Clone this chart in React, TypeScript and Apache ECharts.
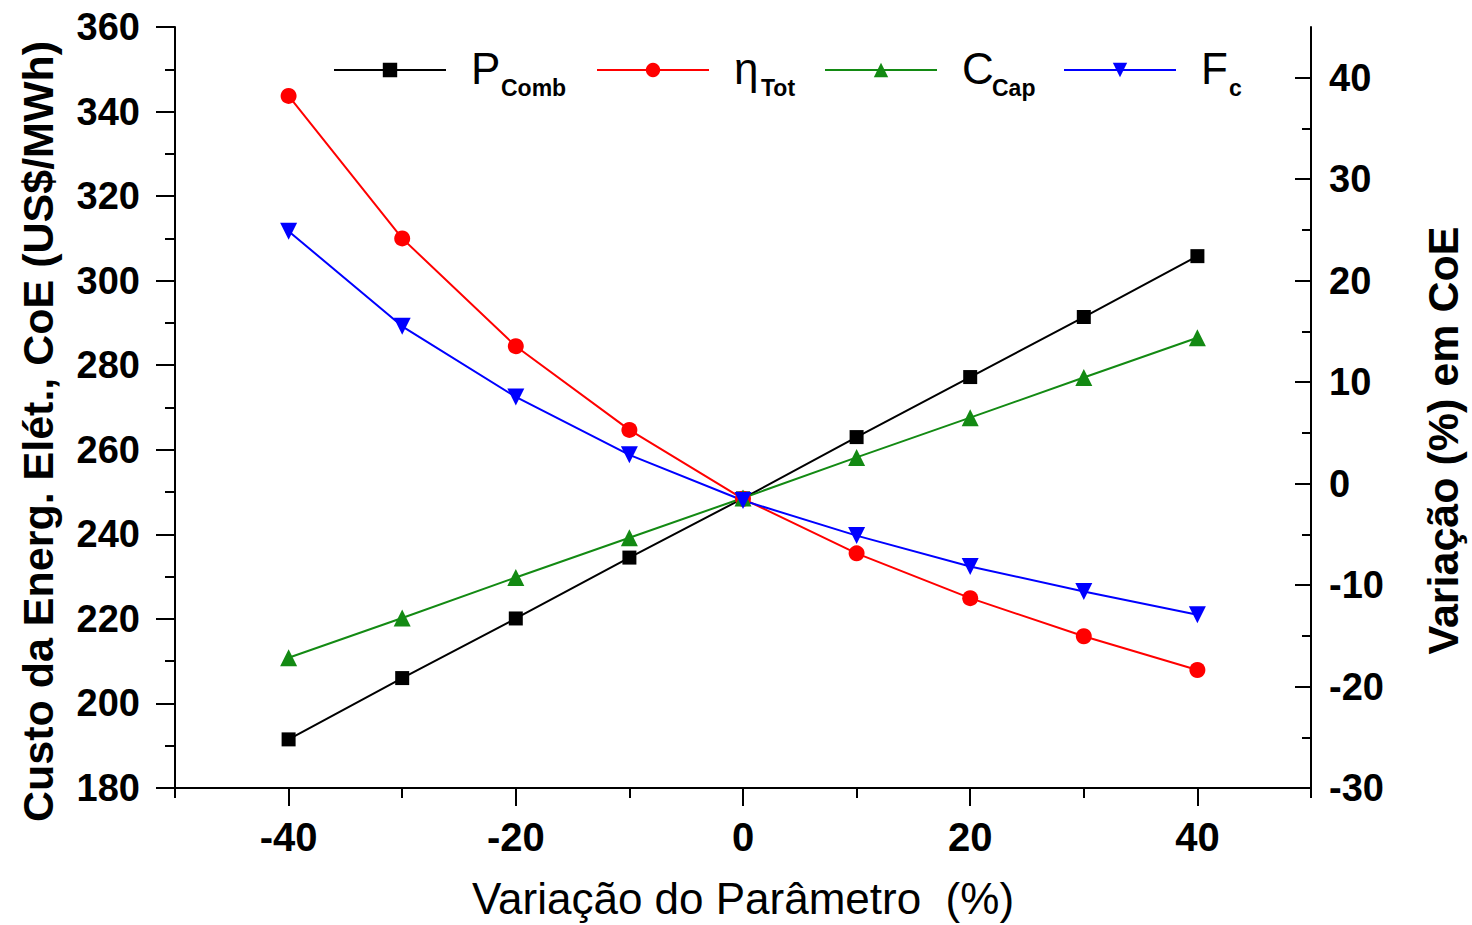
import React, { useEffect, useRef } from "react";
import * as echarts from "echarts";

const xValues = [-40, -30, -20, -10, 0, 10, 20, 30, 40];
const pComb = [191.5, 206, 220.1, 234.5, 248.5, 263, 277.2, 291.4, 305.8];
const etaTot = [343.7, 310, 284.5, 264.7, 248.4, 235.5, 224.9, 215.9, 207.9];
const cCap = [210.8, 220.2, 229.8, 239.2, 248.6, 258.2, 267.6, 277.1, 286.5];
const fC = [311.7, 289.2, 272.5, 258.8, 248, 239.7, 232.4, 226.5, 221];

const xMajorTicks = [-40, -20, 0, 20, 40];
const xMinorTicks = [-50, -30, -10, 10, 30, 50];
const rightTicks = [-30, -20, -10, 0, 10, 20, 30, 40];

const legendKeys = ["PComb", "EtaTot", "CCap", "Fc"];
const legendMain = ["P", "η", "C", "F"];
const legendSub = ["Comb", "Tot", "Cap", "c"];

const FONT = "'Liberation Sans', Arial, sans-serif";

export default function App() {
  const ref = useRef<HTMLDivElement>(null);
  useEffect(() => {
    if (!ref.current) return;
    const chart = echarts.init(ref.current, undefined, { renderer: "svg" });
    const pair = (arr: number[]) => xValues.map((x, i) => [x, arr[i]]);
    const mk = (name: string, data: number[], color: string, symbol: string, size: number, rotate = 0) => ({
      name,
      type: "line",
      data: pair(data),
      xAxisIndex: 0,
      yAxisIndex: 0,
      symbol,
      symbolSize: size,
      symbolRotate: rotate,
      lineStyle: { color, width: 2 },
      itemStyle: { color },
      z: 3,
    });
    const mainW = [30, 27, 30, 28];
    const subW = [70, 38, 46, 20];
    const rich: Record<string, any> = {};
    legendKeys.forEach((_, i) => {
      rich["m" + i] = {
        fontSize: 44,
        lineHeight: 44,
        width: mainW[i],
        fontFamily: FONT,
        color: "#000",
        verticalAlign: "bottom",
        padding: [0, 0, 9, 0],
      };
      rich["s" + i] = {
        fontSize: 23,
        lineHeight: 23,
        width: subW[i],
        fontFamily: FONT,
        fontWeight: "bold",
        color: "#000",
        verticalAlign: "bottom",
      };
    });
    chart.setOption({
      animation: false,
      backgroundColor: "#fff",
      grid: { left: 175, right: 160, top: 27, bottom: 135, containLabel: false },
      legend: {
        left: 333,
        top: 46,
        padding: 0,
        itemWidth: 112,
        itemHeight: 18,
        itemGap: 25,
        data: legendKeys,
        formatter: (n: string) => {
          const i = legendKeys.indexOf(n);
          return `{m${i}|${legendMain[i]}}{s${i}|${legendSub[i]}}`;
        },
        textStyle: { padding: [14, 0, 0, 20], rich },
      },
      xAxis: [
        {
          type: "value",
          min: -50,
          max: 50,
          interval: 10,
          name: "Variação do Parâmetro  (%)",
          nameLocation: "middle",
          nameGap: 88,
          nameTextStyle: { fontSize: 44, fontFamily: FONT, color: "#000" },
          axisLine: { onZero: false, lineStyle: { color: "#000", width: 2 } },
          axisTick: { customValues: xMajorTicks, length: 18, lineStyle: { color: "#000", width: 2 } },
          axisLabel: {
            customValues: xMajorTicks,
            margin: 29,
            fontSize: 40,
            fontWeight: "bold",
            fontFamily: FONT,
            color: "#000",
          },
          splitLine: { show: false },
        },
        {
          type: "value",
          min: -50,
          max: 50,
          position: "bottom",
          axisLine: { show: false, onZero: false },
          axisTick: { customValues: xMinorTicks, length: 10, lineStyle: { color: "#000", width: 2 } },
          axisLabel: { show: false },
          splitLine: { show: false },
        },
      ],
      yAxis: [
        {
          type: "value",
          min: 180,
          max: 360,
          interval: 20,
          position: "left",
          name: "Custo da Energ. Elét., CoE (US$/MWh)",
          nameLocation: "middle",
          nameGap: 116,
          nameTextStyle: {
            fontSize: 43,
            fontWeight: "bold",
            fontFamily: FONT,
            color: "#000",
            padding: [0, 48, 0, 0],
          },
          axisLine: { show: true, onZero: false, lineStyle: { color: "#000", width: 2 } },
          axisTick: { length: 19, lineStyle: { color: "#000", width: 2 } },
          minorTick: { show: true, splitNumber: 2, length: 10, lineStyle: { color: "#000", width: 2 } },
          axisLabel: { margin: 35, fontSize: 38, fontWeight: "bold", fontFamily: FONT, color: "#000" },
          splitLine: { show: false },
        },
        {
          type: "value",
          min: -30,
          max: 45,
          interval: 10,
          position: "right",
          name: "Variação (%) em CoE",
          nameLocation: "middle",
          nameGap: 110,
          nameRotate: 90,
          nameTextStyle: {
            fontSize: 43,
            fontWeight: "bold",
            fontFamily: FONT,
            color: "#000",
            padding: [0, 66, 0, 0],
          },
          axisLine: { show: true, onZero: false, lineStyle: { color: "#000", width: 2 } },
          axisTick: { inside: true, customValues: rightTicks, length: 16, lineStyle: { color: "#000", width: 2 } },
          minorTick: { show: true, splitNumber: 2, length: 9, lineStyle: { color: "#000", width: 2 } },
          axisLabel: { customValues: rightTicks, margin: 18, fontSize: 38, fontWeight: "bold", fontFamily: FONT, color: "#000" },
          splitLine: { show: false },
        },
      ],
      series: [
        mk("PComb", pComb, "#000000", "rect", 14),
        mk("EtaTot", etaTot, "#ff0000", "circle", 16),
        mk("CCap", cCap, "#138a13", "triangle", 17),
        mk("Fc", fC, "#0000ff", "triangle", 17, 180),
      ],
    });
    return () => chart.dispose();
  }, []);
  return (
    <div
      ref={ref}
      style={{ position: "fixed", left: 0, top: 0, width: 1472, height: 925 }}
    />
  );
}
